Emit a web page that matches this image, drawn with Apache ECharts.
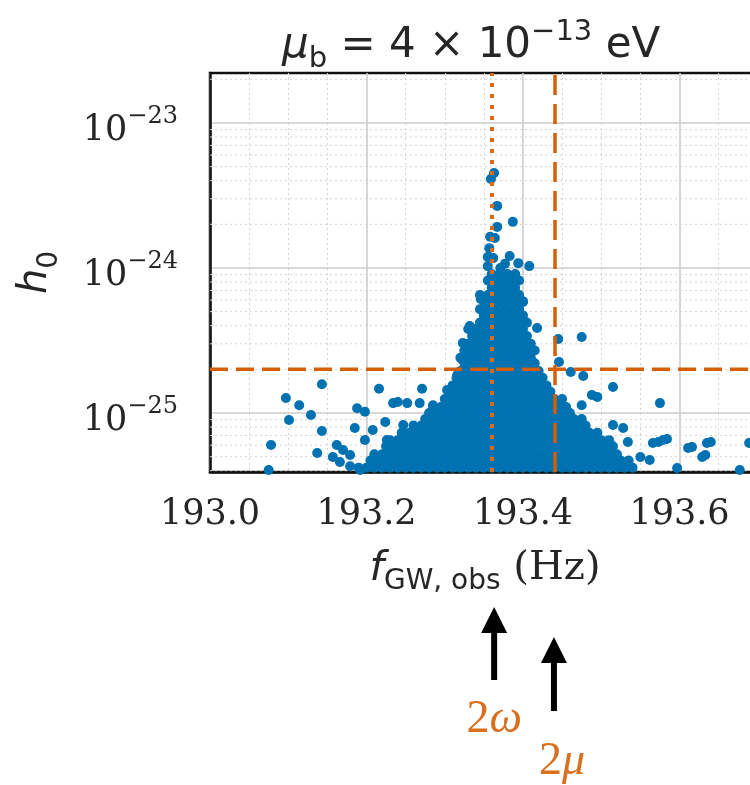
<!DOCTYPE html>
<html><head><meta charset="utf-8">
<script src="https://cdn.jsdelivr.net/npm/echarts@6/dist/echarts.min.js"></script>
<style>html,body{margin:0;padding:0;background:#fff}#c{width:750px;height:785px}</style>
</head><body><div id="c"></div>
<script>
// ---------- data ----------
const xTicks = [193.0, 193.2, 193.4, 193.6];
const xRange = [193.0, 193.8];
const yRange = [3.92e-26, 2.21e-23];
const yMinorGrid = [4e-26,5e-26,6e-26,7e-26,8e-26,9e-26,
  2e-25,3e-25,4e-25,5e-25,6e-25,7e-25,8e-25,9e-25,
  2e-24,3e-24,4e-24,5e-24,6e-24,7e-24,8e-24,9e-24,2e-23];
const freq2omega = 193.358;   // dotted line
const freq2mu = 193.437;      // dashed line
const hThreshold = 2.0e-25;   // horizontal dashed line

// dense core of the cloud, row by row (h value, then frequencies)
const coreH = [9.1e-25,8.2e-25,7.3e-25,6.5e-25,5.9e-25,5.2e-25,4.7e-25,4.2e-25,3.8e-25,3.4e-25,
  3.0e-25,2.7e-25,2.4e-25,2.2e-25,1.95e-25,1.75e-25,1.55e-25,1.4e-25,1.25e-25,1.1e-25,
  1.0e-25,9.1e-26,8.2e-26,7.3e-26,6.5e-26,5.9e-26,5.2e-26,4.7e-26,4.2e-26];
const coreF = [
 [193.36,193.37,193.38,193.39],
 [193.355,193.365,193.375,193.385,193.395],
 [193.36,193.37,193.38,193.39],
 [193.345,193.355,193.365,193.375,193.385,193.395],
 [193.35,193.36,193.37,193.38,193.39,193.40],
 [193.345,193.355,193.365,193.375,193.385,193.395],
 [193.35,193.36,193.37,193.38,193.39,193.40],
 [193.345,193.355,193.365,193.375,193.385,193.395,193.405],
 [193.33,193.34,193.35,193.36,193.37,193.38,193.39,193.40],
 [193.335,193.345,193.355,193.365,193.375,193.385,193.395,193.405],
 [193.33,193.34,193.35,193.36,193.37,193.38,193.39,193.40,193.41],
 [193.325,193.335,193.345,193.355,193.365,193.375,193.385,193.395,193.405,193.415],
 [193.32,193.33,193.34,193.35,193.36,193.37,193.38,193.39,193.40,193.41],
 [193.325,193.335,193.345,193.355,193.365,193.375,193.385,193.395,193.405,193.415],
 [193.32,193.33,193.34,193.35,193.36,193.37,193.38,193.39,193.40,193.41,193.42],
 [193.315,193.325,193.335,193.345,193.355,193.365,193.375,193.385,193.395,193.405,193.415,193.425],
 [193.31,193.32,193.33,193.34,193.35,193.36,193.37,193.38,193.39,193.40,193.41,193.42,193.43],
 [193.305,193.315,193.325,193.335,193.345,193.355,193.365,193.375,193.385,193.395,193.405,193.415,193.425,193.435],
 [193.30,193.31,193.32,193.33,193.34,193.35,193.36,193.37,193.38,193.39,193.40,193.41,193.42,193.43,193.44,193.45],
 [193.285,193.295,193.305,193.315,193.325,193.335,193.345,193.355,193.365,193.375,193.385,193.395,193.405,193.415,193.425,193.435,193.445,193.455],
 [193.28,193.29,193.30,193.31,193.32,193.33,193.34,193.35,193.36,193.37,193.38,193.39,193.40,193.41,193.42,193.43,193.44,193.45,193.46],
 [193.275,193.285,193.295,193.305,193.315,193.325,193.335,193.345,193.355,193.365,193.375,193.385,193.395,193.405,193.415,193.425,193.435,193.445,193.455,193.465,193.475],
 [193.26,193.27,193.28,193.29,193.30,193.31,193.32,193.33,193.34,193.35,193.36,193.37,193.38,193.39,193.40,193.41,193.42,193.43,193.44,193.45,193.46,193.47,193.48],
 [193.245,193.255,193.265,193.275,193.285,193.295,193.305,193.315,193.325,193.335,193.345,193.355,193.365,193.375,193.385,193.395,193.405,193.415,193.425,193.435,193.445,193.455,193.465,193.475,193.485,193.495],
 [193.23,193.24,193.25,193.26,193.27,193.28,193.29,193.30,193.31,193.32,193.33,193.34,193.35,193.36,193.37,193.38,193.39,193.40,193.41,193.42,193.43,193.44,193.45,193.46,193.47,193.48,193.49,193.50,193.51],
 [193.225,193.235,193.245,193.255,193.265,193.275,193.285,193.295,193.305,193.315,193.325,193.335,193.345,193.355,193.365,193.375,193.385,193.395,193.405,193.415,193.425,193.435,193.445,193.455,193.465,193.475,193.485,193.495,193.505,193.515],
 [193.21,193.22,193.23,193.24,193.25,193.26,193.27,193.28,193.29,193.30,193.31,193.32,193.33,193.34,193.35,193.36,193.37,193.38,193.39,193.40,193.41,193.42,193.43,193.44,193.45,193.46,193.47,193.48,193.49,193.50,193.51,193.52],
 [193.205,193.215,193.225,193.235,193.245,193.255,193.265,193.275,193.285,193.295,193.305,193.315,193.325,193.335,193.345,193.355,193.365,193.375,193.385,193.395,193.405,193.415,193.425,193.435,193.445,193.455,193.465,193.475,193.485,193.495,193.505,193.515,193.525,193.535],
 [193.19,193.20,193.21,193.22,193.23,193.24,193.25,193.26,193.27,193.28,193.29,193.30,193.31,193.32,193.33,193.34,193.35,193.36,193.37,193.38,193.39,193.40,193.41,193.42,193.43,193.44,193.45,193.46,193.47,193.48,193.49,193.50,193.51,193.52,193.53,193.54]
];
// individual outlying points
const outlierF = [193.363,193.359,193.367,193.387,193.367,193.358,193.364,193.357,193.355,193.362,193.383,193.394,193.408,193.355,193.371,193.377,
  193.400,193.418,193.445,193.475,193.332,193.323,193.322,193.346,193.446,193.461,193.477,193.515,193.488,193.495,193.475,193.575,
  193.515,193.528,193.534,193.566,193.579,193.611,193.635,193.629,193.689,193.677,193.597,193.562,193.616,193.550,193.640,193.633,193.573,193.584,
  193.143,193.216,193.271,193.303,193.097,193.114,193.101,193.129,193.143,193.078,193.137,193.075,193.188,193.198,193.185,193.198,
  193.170,193.157,193.166,193.179,193.224,193.247,193.240,193.252,193.268,193.285,193.316,193.192,193.162,193.208,193.226,193.234,193.179];
const outlierH = [4.52e-24,4.11e-24,2.68e-24,2.08e-24,1.92e-24,1.64e-24,1.61e-24,1.37e-24,1.19e-24,1.17e-24,1.21e-24,1.08e-24,1.03e-24,1.03e-24,1.0e-24,1.07e-24,
  5.83e-25,3.86e-25,3.24e-25,3.34e-25,3.98e-25,3.04e-25,2.36e-25,6.11e-25,2.25e-25,1.92e-25,1.80e-25,1.51e-25,1.33e-25,1.29e-25,1.13e-25,1.17e-25,
  8.26e-26,7.88e-26,6.31e-26,6.21e-26,6.51e-26,5.74e-26,6.21e-26,4.98e-26,6.21e-26,4.05e-26,4.18e-26,4.74e-26,5.83e-26,4.98e-26,6.31e-26,5.13e-26,6.31e-26,6.62e-26,
  1.58e-25,1.47e-25,1.47e-25,1.44e-25,1.27e-25,1.13e-25,8.96e-26,9.69e-26,7.52e-26,6.01e-26,5.30e-26,4.05e-26,1.08e-25,1.02e-25,7.88e-26,6.51e-26,
  5.56e-26,4.98e-26,4.59e-26,5.13e-26,8.67e-26,8.26e-26,1.19e-25,1.17e-25,1.17e-25,1.13e-25,1.83e-25,4.05e-26,6.01e-26,7.63e-26,6.51e-26,1.17e-25,4.3e-26];

// ---------- build ----------
const points = [];
coreH.forEach((h, i) => coreF[i].forEach(f => points.push([f, h])));
outlierF.forEach((f, i) => points.push([f, outlierH[i]]));

const ORANGE = '#D55E00';
const TXT = '#262626';
const SERIF = 'DejaVu Serif';
const SANS = 'DejaVu Sans';
const LABEL_ORANGE = '#D9701E';

const minorSeries = yMinorGrid.map(v => ({
  type: 'line', silent: true, z: 1, symbol: 'none', animation: false,
  data: [[xRange[0], v], [xRange[1], v]],
  lineStyle: {color: '#d4d4d4', width: 1, type: [2, 3]}
}));

const chart = echarts.init(document.getElementById('c'), null, {renderer: 'canvas'});
chart.setOption({
  animation: false,
  backgroundColor: '#ffffff',
  title: {
    text: '{i|μ}{s|b}{n| = 4 × 10}{e|−13}{n| eV}',
    left: 277, top: 10,
    textStyle: {
      fontWeight: 'normal',
      rich: {
        i: {fontFamily: SANS, fontStyle: 'italic', fontWeight: 'normal', fontSize: 42, color: TXT, lineHeight: 48, verticalAlign: 'top', padding: [10,0,0,0]},
        n: {fontFamily: SANS, fontWeight: 'normal', fontSize: 42, color: TXT, lineHeight: 48, verticalAlign: 'top', padding: [10,0,0,0]},
        s: {fontFamily: SANS, fontWeight: 'normal', fontSize: 29, color: TXT, lineHeight: 32, verticalAlign: 'top', padding: [30,0,0,0]},
        e: {fontFamily: SANS, fontWeight: 'normal', fontSize: 29, color: TXT, lineHeight: 32, verticalAlign: 'top', padding: [3,0,0,0]}
      }
    }
  },
  grid: {left: 210, top: 73, width: 626, height: 399, show: true, borderColor: '#111', borderWidth: 2.5,
         backgroundColor: '#fff', containLabel: false, outerBoundsMode: 'none'},
  xAxis: {
    type: 'value', min: xRange[0], max: xRange[1], interval: 0.2,
    name: '{i|f}{s|GW, obs}{r| (Hz)}',
    nameLocation: 'middle', nameGap: 73, nameMoveOverlap: false,
    nameTextStyle: {
      padding: [0, 76, 0, 0],
      rich: {
        i: {fontFamily: SANS, fontStyle: 'italic', fontSize: 41, color: TXT, lineHeight: 46, verticalAlign: 'top', padding: [4,0,0,0]},
        s: {fontFamily: SANS, fontSize: 28, color: TXT, lineHeight: 30, verticalAlign: 'top', padding: [23,0,0,0]},
        r: {fontFamily: SERIF, fontSize: 40, color: TXT, lineHeight: 46, verticalAlign: 'top', padding: [4,0,0,0]}
      }
    },
    axisLine: {show: true, lineStyle: {color: '#111', width: 2.5}},
    axisTick: {show: false},
    axisLabel: {
      margin: 25, fontFamily: SERIF, fontSize: 35, color: TXT, hideOverlap: false,
      formatter: v => xTicks.some(t => Math.abs(t - v) < 1e-9) ? v.toFixed(1) : ''
    },
    splitLine: {show: true, lineStyle: {color: '#cccccc', width: 1.6}},
    minorTick: {show: false, splitNumber: 4},
    minorSplitLine: {show: true, lineStyle: {color: '#d4d4d4', width: 1, type: [2, 3]}}
  },
  yAxis: {
    type: 'log', logBase: 10, min: yRange[0], max: yRange[1],
    name: '{i|h}{s|0}',
    nameLocation: 'middle', nameRotate: 90, nameGap: 150, nameMoveOverlap: false,
    nameTextStyle: {
      rich: {
        i: {fontFamily: SANS, fontStyle: 'italic', fontSize: 40, color: TXT, lineHeight: 46, verticalAlign: 'top', padding: [2,0,0,0]},
        s: {fontFamily: SANS, fontSize: 28, color: TXT, lineHeight: 30, verticalAlign: 'top', padding: [22,0,0,0]}
      }
    },
    axisLine: {show: true, lineStyle: {color: '#111', width: 2.5}},
    axisTick: {show: false},
    axisLabel: {
      margin: 32, hideOverlap: false, showMinLabel: false, showMaxLabel: false,
      formatter: v => {
        if (!(v > 0)) return '';
        const e = Math.log10(v), r = Math.round(e);
        if (!isFinite(e) || Math.abs(e - r) > 1e-6) return '';
        return '{b|10}{e|−' + (-r) + '}';
      },
      rich: {
        b: {fontFamily: SERIF, fontSize: 35, color: TXT, lineHeight: 40, verticalAlign: 'top', padding: [10,0,0,0]},
        e: {fontFamily: SERIF, fontSize: 24, color: TXT, lineHeight: 28, verticalAlign: 'top', padding: [2,0,0,0]}
      }
    },
    splitLine: {show: true, lineStyle: {color: '#cccccc', width: 1.6}}
  },
  series: [
    ...minorSeries,
    {
      name: 'h0', type: 'scatter', data: points, z: 3,
      symbol: 'circle', symbolSize: 10,
      itemStyle: {color: '#0072B2', opacity: 1},
      markLine: {
        silent: true, z: 6, symbol: ['none', 'none'], label: {show: false},
        data: [
          {xAxis: freq2omega, lineStyle: {color: '#DA6A16', width: 4, type: [4, 7]}},
          {xAxis: freq2mu, lineStyle: {color: ORANGE, width: 3.5, type: [20, 9]}}
        ]
      }
    },
    {
      name: 'threshold', type: 'line', silent: true, z: 6, symbol: 'none',
      data: [[xRange[0], hThreshold], [xRange[1], hThreshold]],
      lineStyle: {color: ORANGE, width: 3.5, type: [18, 8]}
    }
  ]
});

// ---------- annotation arrows below the axis ----------
const xo = chart.convertToPixel({xAxisIndex: 0}, freq2omega) + 4;
const xm = chart.convertToPixel({xAxisIndex: 0}, freq2mu) + 2;
function arrow(x, tip, bottom) {
  return [
    {type: 'polygon', shape: {points: [[x, tip], [x - 13, tip + 26], [x + 13, tip + 26]]}, style: {fill: '#000'}},
    {type: 'rect', shape: {x: x - 3, y: tip + 24, width: 6, height: bottom - tip - 24}, style: {fill: '#000'}}
  ];
}
const labRich = {
  n: {fontFamily: 'Liberation Serif', fontSize: 46, fill: LABEL_ORANGE},
  i: {fontFamily: 'Liberation Serif', fontStyle: 'italic', fontSize: 46, fill: LABEL_ORANGE}
};
chart.setOption({
  graphic: [
    ...arrow(xo, 607, 680),
    ...arrow(xm, 637, 711),
    {type: 'text', x: xo, y: 697, style: {text: '{n|2}{i|ω}', rich: labRich, align: 'center', fill: LABEL_ORANGE}},
    {type: 'text', x: xm + 8, y: 739, style: {text: '{n|2}{i|μ}', rich: labRich, align: 'center', fill: LABEL_ORANGE}}
  ]
});
</script>
</body></html>
